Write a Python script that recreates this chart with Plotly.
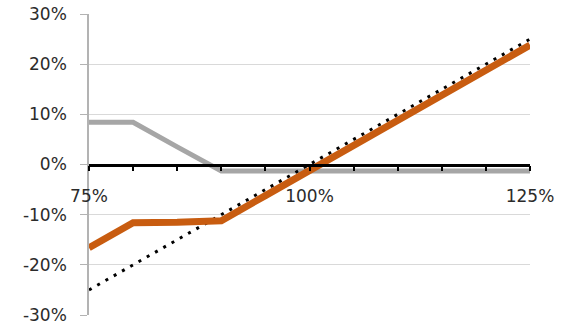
import plotly.graph_objects as go

# Underlying price level (% of strike) and payoff profiles (%)
price_levels = [75, 80, 85, 90, 95, 100, 105, 110, 115, 120, 125]
hedge_payoff = [8.4, 8.4, 3.5, -1.3, -1.3, -1.3, -1.3, -1.3, -1.3, -1.3, -1.3]
hedged_position = [-16.6, -11.6, -11.5, -11.2, -6.2, -1.2, 3.8, 8.8, 13.8, 18.8, 23.8]
unhedged_position = [-25, -20, -15, -10, -5, 0, 5, 10, 15, 20, 25]

x_tick_vals = [75, 80, 85, 90, 95, 100, 105, 110, 115, 120, 125]
x_tick_text = ["75%", "", "", "", "", "100%", "", "", "", "", "125%"]
y_tick_vals = [-30, -20, -10, 0, 10, 20, 30]
y_tick_text = ["-30%", "-20%", "-10%", "0%", "10%", "20%", "30%"]

fig = go.Figure()
fig.add_trace(go.Scatter(
    x=price_levels, y=hedge_payoff, mode="lines",
    line=dict(color="#a6a6a6", width=5), hoverinfo="skip"))
fig.add_trace(go.Scatter(
    x=price_levels, y=unhedged_position, mode="lines",
    line=dict(color="#000000", width=3, dash="3px,6.5px"), hoverinfo="skip"))
fig.add_trace(go.Scatter(
    x=price_levels, y=hedged_position, mode="lines",
    line=dict(color="#c85c10", width=7), hoverinfo="skip"))

fig.update_layout(
    width=561, height=327,
    margin=dict(l=89, r=31, t=14, b=12),
    paper_bgcolor="white", plot_bgcolor="white",
    showlegend=False,
    font=dict(family="DejaVu Sans", size=17, color="#2b2b2b"),
    xaxis=dict(
        range=[75, 125], tickvals=x_tick_vals, ticktext=x_tick_text,
        showgrid=False, zeroline=False, automargin=False,
        showline=True, linecolor="#000000", linewidth=2.5,
        ticks="outside", ticklen=5, tickwidth=2, tickcolor="#000000",
        anchor="free", position=0.5, side="bottom",
        ticklabelstandoff=10,
    ),
    yaxis=dict(
        range=[-30, 30], tickvals=y_tick_vals, ticktext=y_tick_text,
        showgrid=True, gridcolor="#d9d9d9", gridwidth=1, zeroline=False,
        automargin=False,
        showline=True, linecolor="#b3b3b3", linewidth=1.5,
        ticks="outside", ticklen=7, tickwidth=1, tickcolor="#b3b3b3",
        ticklabelstandoff=10,
    ),
)

fig.write_html("out.html")
